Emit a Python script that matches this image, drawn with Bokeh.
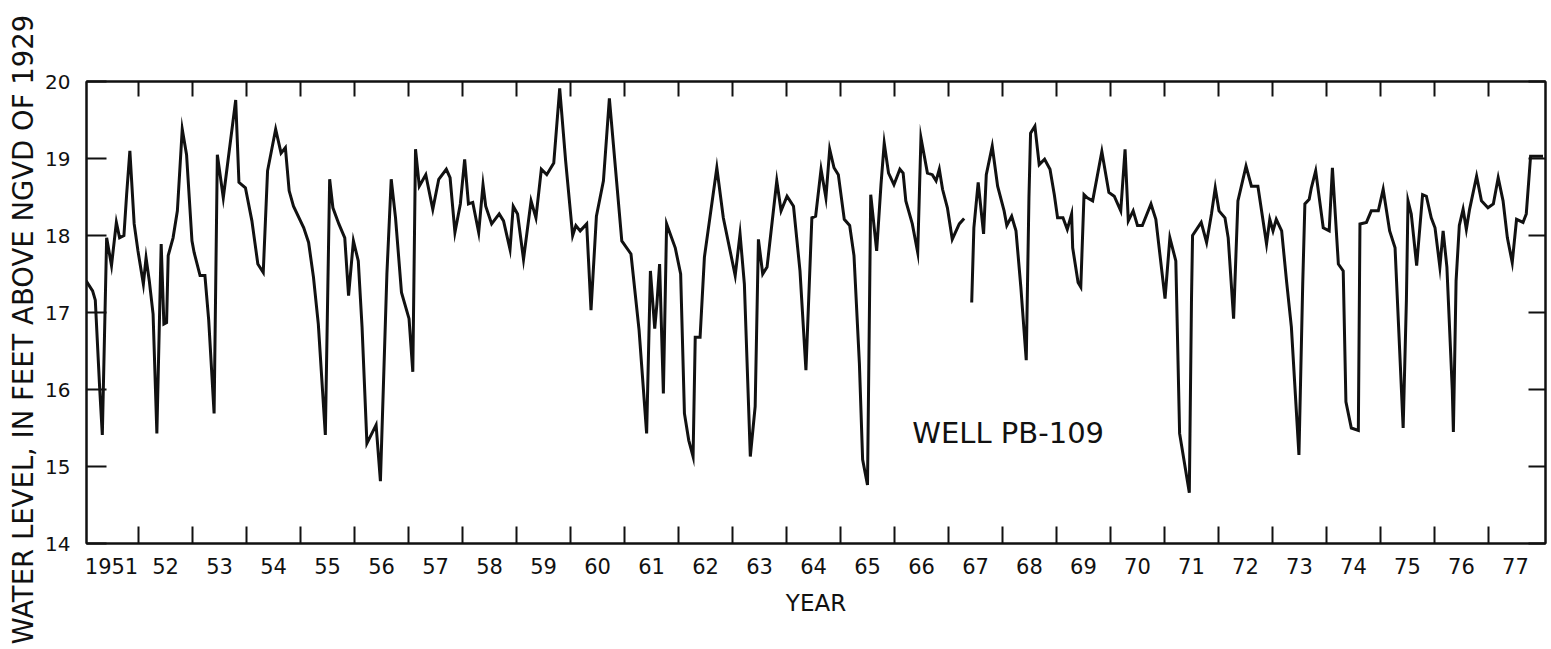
from bokeh.plotting import figure
from bokeh.models import FixedTicker, LinearAxis, Range1d, Label, Title
from bokeh.embed import file_html
from bokeh.resources import INLINE

# ---- data (decimal year, water level in ft above NGVD 1929) ----
years_a = [
    1951.03, 1951.15, 1951.20, 1951.28, 1951.33, 1951.41, 1951.50, 1951.59, 1951.65, 1951.73,
    1951.78, 1951.84, 1951.92, 1951.99, 1952.09, 1952.14, 1952.20, 1952.27, 1952.34, 1952.42,
    1952.47, 1952.52, 1952.55, 1952.64, 1952.72, 1952.81, 1952.89, 1952.99, 1953.03, 1953.14,
    1953.23, 1953.30, 1953.40, 1953.46, 1953.57, 1953.80, 1953.86, 1953.98, 1954.10, 1954.21,
    1954.31, 1954.39, 1954.54, 1954.64, 1954.72, 1954.79, 1954.87, 1955.06, 1955.15, 1955.24,
    1955.33, 1955.46, 1955.54, 1955.60, 1955.71, 1955.82, 1955.89, 1955.98, 1956.07, 1956.14,
    1956.23, 1956.40, 1956.48, 1956.60, 1956.68, 1956.76, 1956.87, 1957.01, 1957.08, 1957.13,
    1957.20, 1957.32, 1957.45, 1957.56, 1957.70, 1957.77, 1957.86, 1957.96, 1958.04, 1958.11,
    1958.19, 1958.30, 1958.38, 1958.43, 1958.54, 1958.68, 1958.76, 1958.88, 1958.94, 1959.02,
    1959.13, 1959.27, 1959.36, 1959.46, 1959.56, 1959.69, 1959.80, 1959.91, 1960.04, 1960.10,
    1960.18, 1960.30, 1960.38, 1960.48, 1960.61, 1960.72, 1960.95, 1961.12, 1961.27, 1961.41,
    1961.48, 1961.56, 1961.60, 1961.65, 1961.72, 1961.78, 1961.94, 1962.04, 1962.11, 1962.19,
    1962.27, 1962.31, 1962.40, 1962.48, 1962.71, 1962.83, 1963.05, 1963.14, 1963.22, 1963.33,
    1963.42, 1963.48, 1963.56, 1963.64, 1963.82, 1963.90, 1964.01, 1964.13, 1964.25, 1964.36,
    1964.47, 1964.54, 1964.64, 1964.73, 1964.80, 1964.88, 1964.96, 1965.07, 1965.17, 1965.25,
    1965.35, 1965.41, 1965.50, 1965.56, 1965.67, 1965.75, 1965.81, 1965.89, 1965.99, 1966.10,
    1966.16, 1966.21, 1966.33, 1966.43, 1966.49, 1966.61, 1966.70, 1966.77, 1966.83, 1966.89,
    1966.98, 1967.07, 1967.20, 1967.29,
]
level_a = [
    17.41, 17.28, 17.16, 16.03, 15.41, 17.97, 17.61, 18.17, 17.97, 18.00,
    18.53, 19.10, 18.15, 17.80, 17.37, 17.71, 17.41, 16.98, 15.43, 17.89,
    16.85, 16.87, 17.74, 17.97, 18.32, 19.38, 19.05, 17.93, 17.78, 17.48,
    17.48, 16.90, 15.69, 19.05, 18.49, 19.76, 18.69, 18.62, 18.19, 17.63,
    17.52, 18.84, 19.38, 19.07, 19.14, 18.58, 18.38, 18.10, 17.91, 17.46,
    16.85, 15.41, 18.73, 18.36, 18.15, 17.97, 17.22, 17.93, 17.67, 16.81,
    15.30, 15.54, 14.81, 17.50, 18.73, 18.23, 17.26, 16.92, 16.23, 19.12,
    18.64, 18.79, 18.34, 18.73, 18.86, 18.75, 18.04, 18.41, 18.99, 18.41,
    18.43, 18.04, 18.66, 18.38, 18.15, 18.28, 18.19, 17.82, 18.38, 18.28,
    17.69, 18.45, 18.23, 18.86, 18.79, 18.94, 19.91, 18.97, 18.00, 18.13,
    18.06, 18.15, 17.03, 18.25, 18.71, 19.78, 17.93, 17.76, 16.77, 15.43,
    17.54, 16.79, 17.11, 17.63, 15.95, 18.15, 17.84, 17.50, 15.69, 15.34,
    15.13, 16.68, 16.68, 17.72, 18.88, 18.23, 17.48, 18.02, 17.37, 15.13,
    15.78, 17.95, 17.50, 17.59, 18.71, 18.32, 18.51, 18.38, 17.54, 16.25,
    18.23, 18.25, 18.86, 18.49, 19.12, 18.88, 18.79, 18.21, 18.13, 17.74,
    16.34, 15.09, 14.76, 18.53, 17.80, 18.66, 19.20, 18.81, 18.66, 18.86,
    18.81, 18.45, 18.15, 17.78, 19.27, 18.81, 18.79, 18.71, 18.86, 18.60,
    18.36, 17.95, 18.15, 18.22,
]

years_b = [
    1967.43, 1967.47, 1967.55, 1967.65, 1967.70, 1967.81, 1967.91, 1968.03, 1968.08, 1968.17,
    1968.25, 1968.34, 1968.44, 1968.49, 1968.52, 1968.60, 1968.68, 1968.78, 1968.88, 1968.96,
    1969.02, 1969.12, 1969.20, 1969.28, 1969.30, 1969.40, 1969.45, 1969.51, 1969.57, 1969.67,
    1969.84, 1969.97, 1970.07, 1970.19, 1970.27, 1970.33, 1970.42, 1970.50, 1970.59, 1970.75,
    1970.84, 1971.01, 1971.10, 1971.21, 1971.28, 1971.46, 1971.50, 1971.52, 1971.68, 1971.78,
    1971.87, 1971.94, 1972.01, 1972.12, 1972.18, 1972.28, 1972.36, 1972.51, 1972.61, 1972.73,
    1972.89, 1972.95, 1973.01, 1973.07, 1973.17, 1973.26, 1973.35, 1973.49, 1973.56, 1973.60,
    1973.68, 1973.72, 1973.80, 1973.94, 1974.05, 1974.11, 1974.22, 1974.31, 1974.36, 1974.46,
    1974.59, 1974.62, 1974.74, 1974.83, 1974.96, 1975.05, 1975.17, 1975.27, 1975.42, 1975.48,
    1975.51, 1975.57, 1975.67, 1975.78, 1975.85, 1975.94, 1976.01, 1976.10, 1976.16, 1976.23,
    1976.33, 1976.35, 1976.40, 1976.46, 1976.53, 1976.59, 1976.65, 1976.78, 1976.87, 1976.99,
    1977.09, 1977.18, 1977.27, 1977.35, 1977.44, 1977.52, 1977.64, 1977.70, 1977.78, 1978.01,
]
level_b = [
    17.13, 18.10, 18.69, 18.02, 18.79, 19.16, 18.64, 18.32, 18.13, 18.25,
    18.06, 17.33, 16.38, 18.49, 19.33, 19.42, 18.92, 18.99, 18.86, 18.53,
    18.23, 18.23, 18.08, 18.28, 17.84, 17.39, 17.33, 18.53, 18.49, 18.45,
    19.09, 18.56, 18.51, 18.32, 19.12, 18.19, 18.32, 18.13, 18.13, 18.41,
    18.21, 17.18, 17.97, 17.67, 15.43, 14.66, 17.16, 18.00, 18.17, 17.91,
    18.28, 18.62, 18.32, 18.23, 17.97, 16.92, 18.45, 18.90, 18.64, 18.64,
    17.89, 18.21, 18.06, 18.21, 18.06, 17.41, 16.81, 15.15, 17.37, 18.41,
    18.47, 18.62, 18.84, 18.10, 18.06, 18.88, 17.63, 17.54, 15.84, 15.50,
    15.47, 18.15, 18.17, 18.32, 18.32, 18.60, 18.06, 17.84, 15.50, 17.16,
    18.45, 18.28, 17.61, 18.53, 18.51, 18.23, 18.10, 17.59, 18.06, 17.59,
    15.99, 15.45, 17.41, 18.13, 18.34, 18.08, 18.34, 18.77, 18.45, 18.36,
    18.41, 18.75, 18.45, 17.97, 17.65, 18.21, 18.17, 18.28, 19.03, 19.03,
]

year_labels = ["1951"] + [str(y)[2:] for y in range(1952, 1978)]
year_starts = list(range(1952, 1978))
level_ticks = [14, 15, 16, 17, 18, 19, 20]

FONT = "DejaVu Sans"
INK = "#111111"

p = figure(width=1549, height=647,
           x_range=Range1d(1951.037, 1978.056), y_range=Range1d(14, 20),
           x_axis_type=None, y_axis_type=None,
           output_backend="svg", toolbar_location=None,
           min_border_left=86, min_border_right=4, min_border_top=81, min_border_bottom=104)
p.background_fill_color = "white"
p.border_fill_color = "white"
p.outline_line_color = INK
p.outline_line_width = 2
p.xgrid.visible = False
p.ygrid.visible = False

mid = [1951.5 + i for i in range(len(year_labels))]
xticker = FixedTicker(ticks=mid, minor_ticks=year_starts)

xb = LinearAxis(ticker=xticker,
                major_label_overrides={m: lab for m, lab in zip(mid, year_labels)},
                axis_label="YEAR")
xt = LinearAxis(ticker=xticker)
for ax, tin in ((xb, 17), (xt, 15)):
    ax.axis_line_color = INK
    ax.axis_line_width = 2
    ax.major_tick_line_color = None
    ax.minor_tick_line_color = INK
    ax.minor_tick_line_width = 2
    ax.minor_tick_in = tin
    ax.minor_tick_out = 0
xb.major_label_text_font = FONT
xb.major_label_text_font_size = "21px"
xb.major_label_text_color = INK
xb.major_label_standoff = 8
xb.axis_label_text_font = FONT
xb.axis_label_text_font_size = "23px"
xb.axis_label_text_font_style = "normal"
xb.axis_label_text_color = INK
xb.axis_label_standoff = 13
xt.major_label_text_font_size = "0px"
xt.major_label_text_color = None
xt.major_label_standoff = 0
p.add_layout(xb, "below")
p.add_layout(xt, "above")

yticker = FixedTicker(ticks=level_ticks)
yl = LinearAxis(ticker=yticker)
yr = LinearAxis(ticker=yticker)
for ax, tin in ((yl, 20), (yr, 17)):
    ax.axis_line_color = INK
    ax.axis_line_width = 2
    ax.major_tick_line_color = INK
    ax.major_tick_line_width = 2
    ax.major_tick_in = tin
    ax.major_tick_out = 0
    ax.minor_tick_line_color = None
yl.major_label_text_font = FONT
yl.major_label_text_font_size = "20px"
yl.major_label_text_color = INK
yl.major_label_standoff = 16
yr.major_label_text_font_size = "0px"
yr.major_label_text_color = None
yr.major_label_standoff = 0
p.add_layout(yl, "left")
p.add_layout(yr, "right")

# vertical axis title: starts below the frame's bottom, as in the original
p.add_layout(Title(text="WATER LEVEL, IN FEET ABOVE NGVD OF 1929", align="left",
                   offset=-101, standoff=8, text_font=FONT, text_font_size="27.5px",
                   text_font_style="normal", text_color=INK), "left")

p.line(years_a, level_a, line_color=INK, line_width=3, line_join="miter")
p.line(years_b, level_b, line_color=INK, line_width=3, line_join="miter")

p.add_layout(Label(x=1966.33, y=15.44, text="WELL PB-109", text_font=FONT,
                   text_font_size="29px", text_color=INK, text_baseline="alphabetic"))

open("out.html", "w").write(file_html(p, INLINE))
